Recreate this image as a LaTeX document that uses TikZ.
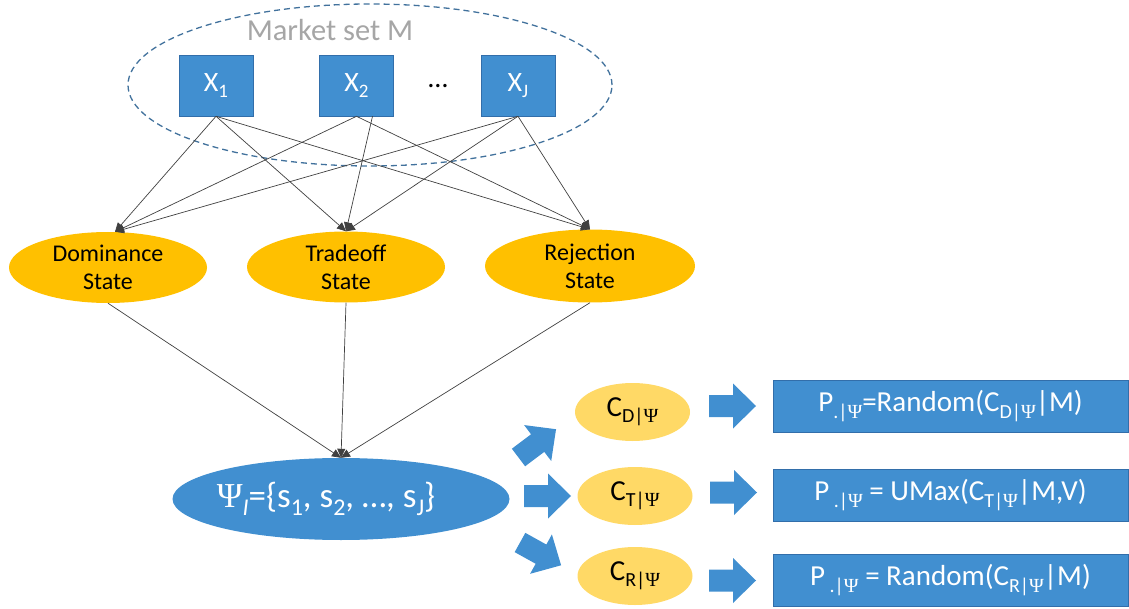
\documentclass[tikz,border=0pt]{standalone}
\usepackage{fontspec}
\setmainfont{Carlito}
\newfontfamily\psifont{Liberation Serif}
\usetikzlibrary{arrows.meta,shapes.geometric}
\definecolor{bblue}{RGB}{65,143,208}
\definecolor{bedge}{RGB}{50,110,170}
\definecolor{gold}{RGB}{255,192,0}
\definecolor{lgold}{RGB}{255,217,102}
\definecolor{dashblue}{RGB}{65,113,156}
\definecolor{mgray}{RGB}{166,166,166}
\definecolor{lineg}{RGB}{64,64,64}
\newcommand{\blockarr}[3]{\fill[bblue, shift={(#1,#2)}, rotate=#3] (0,-11) -- (24,-11) -- (24,-22.5) -- (47,0) -- (24,22.5) -- (24,11) -- (0,11) -- cycle;}
\newcommand{\sbs}[2]{\raisebox{-0.22em}{\fontsize{#1}{#1}\selectfont #2}}
\newcommand{\Ps}{{\psifont Ψ}}
\begin{document}
\begin{tikzpicture}[x=1pt,y=-1pt,
 xbox/.style={rectangle, fill=bblue, draw=bedge, line width=0.6pt, text=white, minimum width=74pt, minimum height=61pt, inner sep=0pt, font=\fontsize{28}{32}\selectfont},
 state/.style={ellipse, fill=gold, minimum width=198pt, minimum height=71pt, inner sep=0pt, align=center, font=\fontsize{24}{28}\selectfont},
 cset/.style={ellipse, fill=lgold, minimum width=115pt, minimum height=58pt, inner sep=0pt, font=\fontsize{29}{32}\selectfont},
 pbox/.style={rectangle, fill=bblue, draw=bedge, line width=0.6pt, text=white, minimum width=355pt, minimum height=52pt, inner sep=0pt, font=\fontsize{29}{32}\selectfont},
 conn/.style={draw=lineg, line width=0.7pt, -{Triangle[length=9pt,width=8pt]}},
]
\clip (0,0) rectangle (1129,609);
\node[ellipse, draw=dashblue, dash pattern=on 6pt off 4pt, line width=1.3pt, minimum width=484pt, minimum height=162pt, inner sep=0pt] (M) at (370,85) {};
\node[text=mgray, font=\fontsize{30.5}{34}\selectfont] (Mlab) at (330,30) {Market set M};
\node[xbox] (x1) at (216,85.5) {X\sbs{19}{1}};
\node[xbox] (x2) at (356.5,85.5) {X\sbs{19}{2}};
\node[xbox] (xJ) at (518,85.5) {X\sbs{19}{J}};
\node[font=\fontsize{28}{30}\selectfont] (dots) at (438,86) {…};

\node[state] (dom) at (108,267.5) {Dominance\\State};
\node[state] (tra) at (346,267) {Tradeoff\\State};
\node[state, minimum width=210pt, minimum height=73pt] (rej) at (590,266) {Rejection\\State};

\node[ellipse, fill=bblue, text=white, minimum width=337pt, minimum height=82pt, inner sep=-40pt, font=\fontsize{35}{40}\selectfont] (psi) at (341,499) {\Ps\sbs{24}{\textit{I}}=\{s\sbs{24}{1}, s\sbs{24}{2}, …, s\sbs{24}{J}\}\hspace*{30pt}};

\node[cset] (cd) at (632.5,412) {C\sbs{20}{D|\Ps}};
\node[cset] (ct) at (635,496) {C\sbs{20}{T|\Ps}};
\node[cset] (cr) at (635,576) {C\sbs{20}{R|\Ps}};

\node[pbox] (p1) at (950.5,406) {P\sbs{20}{.|\Ps}=Random(C\sbs{20}{D|\Ps}|M)};
\node[pbox] (p2) at (950.5,495) {P\sbs{20}{~.|\Ps} = UMax(C\sbs{20}{T|\Ps}|M,V)};
\node[pbox] (p3) at (950.5,580) {P\sbs{20}{~.|\Ps} = Random(C\sbs{20}{R|\Ps}|M)};

\blockarr{518.5}{457.5}{37}
\blockarr{524}{496}{0}
\blockarr{520}{542.5}{-29}
\blockarr{709}{406}{0}
\blockarr{710}{492.5}{0}
\blockarr{709}{580.5}{0}

\draw[conn] (x1.south) -- ([xshift=7pt]dom.north);
\draw[conn] (x1.south) -- (tra.north);
\draw[conn] (x1.south) -- (rej.north);
\draw[conn] (x2.south) -- ([xshift=7pt]dom.north);
\draw[conn] ([xshift=16pt]x2.south) -- (tra.north);
\draw[conn] (x2.south) -- (rej.north);
\draw[conn] (xJ.south) -- ([xshift=7pt]dom.north);
\draw[conn] (xJ.south) -- (tra.north);
\draw[conn] (xJ.south) -- (rej.north);
\draw[conn] (dom.south) -- (psi.north);
\draw[conn] (tra.south) -- (psi.north);
\draw[conn] (rej.south) -- (psi.north);
\end{tikzpicture}
\end{document}
